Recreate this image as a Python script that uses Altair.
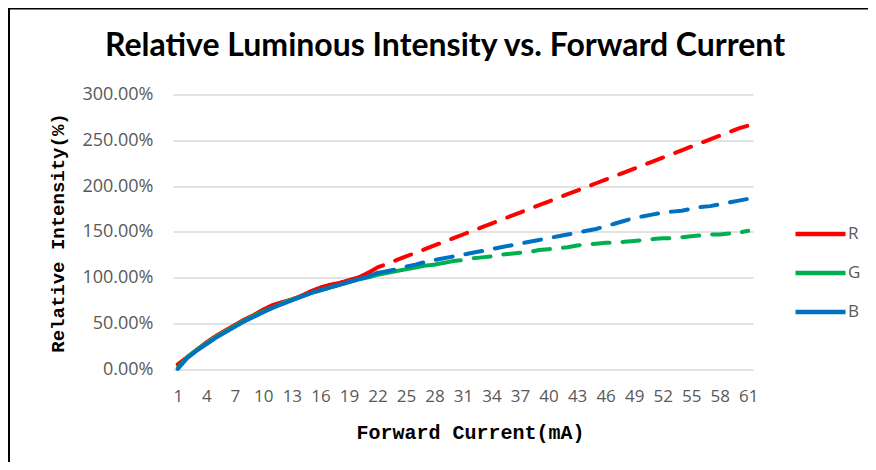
import altair as alt
import pandas as pd

current = list(range(1, 62))

r_vals = [5, 13, 21, 29, 36, 42, 48, 54, 59, 65, 70, 73, 76, 80, 85, 89, 92, 94, 97, 100,
          105, 111, 115, 119, 123, 127, 131, 135, 139, 143, 147, 151, 155, 159, 163, 167, 171, 175,
          179, 183, 187, 191, 195, 199, 203, 207, 211, 215, 219, 223, 227, 231, 235, 239, 243,
          247, 251, 255, 259, 263, 266]
g_vals = [1, 13, 21, 28, 35, 41, 47, 53, 58, 63, 67, 72, 76, 79, 83, 86, 89, 92, 95, 98,
          100, 103, 105, 107, 109, 111, 113, 114, 116, 118, 119, 121, 122, 123, 125, 126, 127, 128,
          130, 131, 132, 133, 135, 136, 137, 138, 138, 139, 140, 141, 142, 143, 143, 144, 145,
          146, 147, 147, 148, 149, 151]
b_vals = [0, 12, 20, 27, 34, 40, 46, 52, 57, 62, 67, 71, 75, 79, 83, 86, 89, 92, 95, 98,
          101, 105, 107, 109, 112, 114, 117, 119, 121, 123, 125, 127, 129, 131, 133, 135, 137, 139,
          141, 143, 145, 147, 149, 151, 153, 156, 159, 162, 165, 167, 169, 171, 172, 173, 175,
          177, 178, 180, 182, 184, 186]

series_names = ["R", "G", "B"]
series_vals = [r_vals, g_vals, b_vals]
solid_until = {"R": 21, "G": 29, "B": 22}   # last current drawn solid
colors = ["#FF0000", "#00B050", "#0070C0"]
x_ticks = list(range(1, 62, 3))
y_ticks = [0, 50, 100, 150, 200, 250, 300]

rows = []
for name, vals in zip(series_names, series_vals):
    cut = solid_until[name]
    for c, v in zip(current, vals):
        if c <= cut:
            rows.append({"current": c, "value": v, "series": name, "seg": "solid", "grp": name + "_solid"})
        if c >= cut:
            rows.append({"current": c, "value": v, "series": name, "seg": "dashed", "grp": name + "_dashed"})
df = pd.DataFrame(rows)

lines = alt.Chart(df).mark_line(strokeWidth=4, strokeCap="round", strokeJoin="round").encode(
    x=alt.X("current:Q",
            scale=alt.Scale(domain=[0.5, 61.5], nice=False, zero=False),
            axis=alt.Axis(values=x_ticks, grid=False, domain=False, ticks=False, tickSize=0,
                          labelPadding=27, labelFont="Open Sans", labelFontSize=17,
                          labelColor="#595959", labelBaseline="middle",
                          title="Forward Current(mA)", titleFont="Liberation Mono",
                          titleFontWeight="bold", titleFontSize=20, titleColor="#000000",
                          titleX=297, titleY=63, titleBaseline="middle", titleAnchor="middle")),
    y=alt.Y("value:Q",
            scale=alt.Scale(domain=[0, 300], nice=False),
            axis=alt.Axis(values=y_ticks, domain=False, ticks=False, tickSize=0,
                          labelExpr="format(datum.value, '.2f') + '%'",
                          labelPadding=20, labelFont="Open Sans", labelFontSize=18,
                          labelColor="#595959",
                          gridColor="#D9D9D9", gridWidth=1.5,
                          title="Relative Intensity(%)", titleFont="Liberation Mono",
                          titleFontWeight="bold", titleFontSize=19, titleColor="#000000",
                          titleX=-116, titleY=138, titleAngle=-90, titleBaseline="middle",
                          titleAnchor="middle")),
    color=alt.Color("series:N",
                    scale=alt.Scale(domain=series_names, range=colors),
                    legend=alt.Legend(title=None, orient="none", legendX=620, legendY=112,
                                      symbolType="stroke", symbolSize=2500, symbolStrokeWidth=4.5,
                                      labelFont="Open Sans", labelFontSize=17, labelColor="#595959",
                                      labelOffset=0, rowPadding=2)),
    strokeDash=alt.StrokeDash("seg:N",
                              scale=alt.Scale(domain=["solid", "dashed"], range=[[1, 0], [17, 13]]),
                              legend=None),
    detail="grp:N",
)

frame_df = pd.DataFrame({"k": [0]})
frame = alt.Chart(frame_df).mark_rect(fillOpacity=0, stroke="#000000", strokeWidth=2).encode(
    x=alt.value(-164), x2=alt.value(730), y=alt.value(-86), y2=alt.value(420))

chart = alt.layer(lines, frame).properties(
    width=580,
    height=274.5,
    padding={"left": 165, "top": 86.5, "right": 115, "bottom": 93},
    autosize=alt.AutoSizeParams(type="none"),
    title=alt.TitleParams("Relative Luminous Intensity vs. Forward Current",
                          font="Lato", fontSize=32, fontWeight="bold", color="#000000",
                          anchor="middle", dx=-18, offset=0, dy=80, baseline="alphabetic"),
).configure_view(stroke=None)

chart.save("out.html", embed_options={"renderer": "svg", "actions": False})
